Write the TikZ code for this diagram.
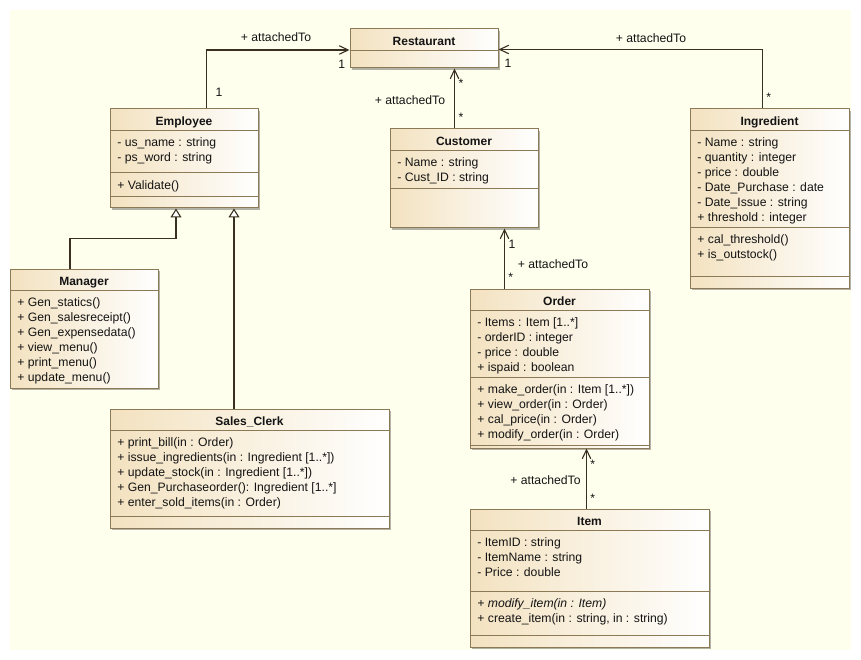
\documentclass[tikz,border=0pt]{standalone}
\usepackage{fontspec}
\setmainfont{Liberation Sans}
\usetikzlibrary{arrows.meta,shadows,calc}

\definecolor{paper}{RGB}{255,255,238}
\definecolor{tanc}{RGB}{243,226,192}
\definecolor{borderc}{RGB}{140,122,86}
\definecolor{linec}{RGB}{58,48,32}
\definecolor{textc}{RGB}{20,20,20}

\newcommand\memberfont{\fontsize{12.2}{15}\selectfont}
\newcommand\namefont{\fontsize{12}{15}\selectfont\bfseries}
% horizontal compartment line, #2 pt below the top of class box #1
\newcommand\classdivider[2]{\draw[divline] ([yshift=-#2pt]#1.north west) -- ([yshift=-#2pt]#1.north east);}

\tikzset{
  conn/.style={draw=linec, line width=1.1pt},
  assoc/.style={conn, -{Straight Barb[length=9pt,width=8.5pt]}},
  gen/.style={conn, -{Triangle[open,fill=white,length=9pt,width=11pt]}},
  classbox/.style={rectangle, draw=borderc, line width=1pt, left color=tanc, right color=white,
    inner sep=0pt, drop shadow={shadow xshift=2pt,shadow yshift=-2pt,fill=black,opacity=0.3}},
  divline/.style={draw=borderc, line width=1pt},
  cname/.style={font=\namefont, anchor=base, inner sep=0pt, text=textc},
  members/.style={font=\memberfont, align=left, anchor=north west, inner sep=0pt, text=textc,
    execute at begin node=\strut},
  lbl/.style={font=\memberfont, anchor=base, inner sep=0pt, text=textc},
}

\begin{document}
\begin{tikzpicture}[x=1pt,y=-1pt]
\useasboundingbox (0,0) rectangle (861,660);
\fill[white] (0,0) rectangle (861,660);
\fill[paper] (10,10) rectangle (851,650);

% ---------- class boxes ----------
\node[classbox, minimum width=148pt, minimum height=39pt]  (rest)  at (424,48.5)   {};
\node[classbox, minimum width=148pt, minimum height=99pt]  (emp)   at (184,158.5)  {};
\node[classbox, minimum width=148pt, minimum height=99pt]  (cust)  at (464,178.5)  {};
\node[classbox, minimum width=159pt, minimum height=179pt] (ingr)  at (769.5,198.5){};
\node[classbox, minimum width=148pt, minimum height=119pt] (mgr)   at (84,328.5)   {};
\node[classbox, minimum width=279pt, minimum height=119pt] (clerk) at (249.5,468.5){};
\node[classbox, minimum width=179pt, minimum height=159pt] (order) at (559.5,368.5){};
\node[classbox, minimum width=239pt, minimum height=138pt] (item)  at (589.5,578)  {};

% ---------- compartments ----------
\classdivider{rest}{22}
\classdivider{emp}{22}\classdivider{emp}{64}\classdivider{emp}{88}
\classdivider{cust}{22}\classdivider{cust}{60}
\classdivider{ingr}{22}\classdivider{ingr}{119}\classdivider{ingr}{168}
\classdivider{mgr}{22}
\classdivider{clerk}{22}\classdivider{clerk}{108}
\classdivider{order}{22}\classdivider{order}{89}\classdivider{order}{157}
\classdivider{item}{22}\classdivider{item}{83}\classdivider{item}{127}

% ---------- class names ----------
\node[cname] (rest-name)  at ([yshift=-16.8pt]rest.north)  {Restaurant};
\node[cname] (emp-name)   at ([yshift=-16.8pt]emp.north)   {Employee};
\node[cname] (cust-name)  at ([yshift=-16.8pt]cust.north)  {Customer};
\node[cname] (ingr-name)  at ([yshift=-16.8pt]ingr.north)  {Ingredient};
\node[cname] (mgr-name)   at ([yshift=-16.8pt]mgr.north)   {Manager};
\node[cname] (clerk-name) at ([yshift=-16.8pt]clerk.north) {Sales\_Clerk};
\node[cname] (order-name) at ([yshift=-16.8pt]order.north) {Order};
\node[cname] (item-name)  at ([yshift=-16.8pt]item.north)  {Item};

% ---------- members ----------
\node[members] (emp-attr) at ([xshift=7.7pt,yshift=-28.5pt]emp.north west)
  {- us\_name : string\\- ps\_word : string};
\node[members] (emp-ops) at ([xshift=7.7pt,yshift=-70.5pt]emp.north west)
  {+ Validate()};
\node[members] (cust-attr) at ([xshift=7.7pt,yshift=-28.5pt]cust.north west)
  {- Name : string\\- Cust\_ID : string};
\node[members] (ingr-attr) at ([xshift=7.7pt,yshift=-28.5pt]ingr.north west)
  {- Name : string\\- quantity : integer\\- price : double\\- Date\_Purchase : date\\- Date\_Issue : string\\+ threshold : integer};
\node[members] (ingr-ops) at ([xshift=7.7pt,yshift=-125.5pt]ingr.north west)
  {+ cal\_threshold()\\+ is\_outstock()};
\node[members] (mgr-ops) at ([xshift=7.7pt,yshift=-28.5pt]mgr.north west)
  {+ Gen\_statics()\\+ Gen\_salesreceipt()\\+ Gen\_expensedata()\\+ view\_menu()\\+ print\_menu()\\+ update\_menu()};
\node[members] (clerk-ops) at ([xshift=7.7pt,yshift=-28.5pt]clerk.north west)
  {+ print\_bill(in : Order)\\+ issue\_ingredients(in : Ingredient [1..*])\\+ update\_stock(in : Ingredient [1..*])\\+ Gen\_Purchaseorder(): Ingredient [1..*]\\+ enter\_sold\_items(in : Order)};
\node[members] (order-attr) at ([xshift=7.7pt,yshift=-28.5pt]order.north west)
  {- Items : Item [1..*]\\- orderID : integer\\- price : double\\+ ispaid : boolean};
\node[members] (order-ops) at ([xshift=7.7pt,yshift=-95.5pt]order.north west)
  {+ make\_order(in : Item [1..*])\\+ view\_order(in : Order)\\+ cal\_price(in : Order)\\+ modify\_order(in : Order)};
\node[members] (item-attr) at ([xshift=7.7pt,yshift=-28.5pt]item.north west)
  {- ItemID : string\\- ItemName : string\\- Price : double};
\node[members] (item-ops) at ([xshift=7.7pt,yshift=-89.5pt]item.north west)
  {\textit{+ modify\_item(in : Item)}\\+ create\_item(in : string, in : string)};

% ---------- associations ----------
\coordinate (e1) at ([xshift=22.7pt]emp.north);
\draw[assoc] (e1) |- ([yshift=-1.5pt]rest.west);
\coordinate (g1) at ([xshift=-6.8pt]ingr.north);
\draw[assoc] (g1) |- ([yshift=-1pt]rest.east);
\coordinate (c1) at ([xshift=-9.5pt]cust.north);
\draw[assoc] (c1) -- (c1 |- rest.south);
\coordinate (o1) at ([xshift=-55pt]order.north);
\draw[assoc] (o1) -- (o1 |- cust.south);
\coordinate (i1) at ([xshift=-3pt]item.north);
\draw[assoc] (i1) -- (i1 |- order.south);

% ---------- generalizations ----------
\coordinate (m1) at ([xshift=-14pt]mgr.north);
\coordinate (e2) at ([xshift=-8pt]emp.south);
\draw[gen] (m1) -- ++(0,-30) -| (e2);
\coordinate (s1) at ([xshift=-15.5pt]clerk.north);
\draw[gen] (s1) -- (s1 |- emp.south);

% ---------- role names and multiplicities ----------
\node[lbl] (l-er)  at (276,41.2)   {+ attachedTo};
\node[lbl] (m-er1) at (341.7,68.2) {1};
\node[lbl] (m-er2) at (219,96.2)   {1};
\node[lbl] (l-cr)  at (410,104.5)  {+ attachedTo};
\node[lbl] (m-cr1) at (461,88)     {*};
\node[lbl] (m-cr2) at (461,122)    {*};
\node[lbl] (l-ir)  at (651,42.8)   {+ attachedTo};
\node[lbl] (m-ir1) at (508,67.2)   {1};
\node[lbl] (m-ir2) at (768.7,102)  {*};
\node[lbl] (l-oc)  at (553,268.5)  {+ attachedTo};
\node[lbl] (m-oc1) at (512,248.5)  {1};
\node[lbl] (m-oc2) at (510.7,281)  {*};
\node[lbl] (l-io)  at (545.5,484.5){+ attachedTo};
\node[lbl] (m-io1) at (592.7,468)  {*};
\node[lbl] (m-io2) at (592.7,502)  {*};
\end{tikzpicture}
\end{document}
